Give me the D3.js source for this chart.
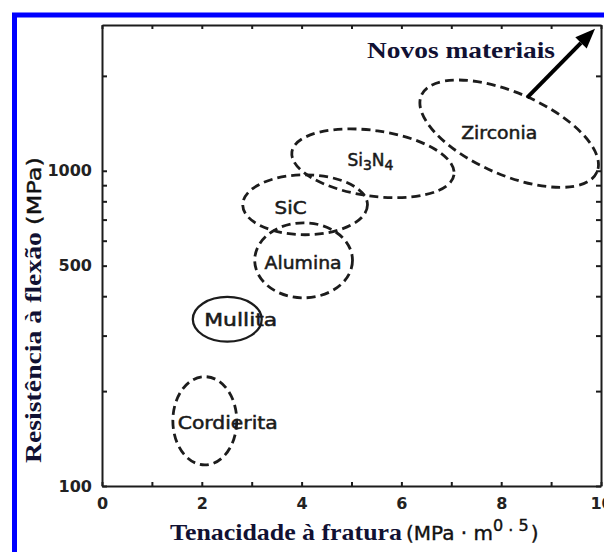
<!DOCTYPE html>
<html>
<head>
<meta charset="utf-8">
<script src="https://cdn.jsdelivr.net/npm/d3@7"></script>
<style>
  html, body { margin: 0; padding: 0; background: #fff; }
  svg { display: block; }
</style>
</head>
<body>
<svg id="chart" width="604" height="552"></svg>
<script>
// ---------------- data ----------------
const xTickValues = [0, 1, 2, 3, 4, 5, 6, 7, 8, 9, 10];
const xTickLabels = [0, 2, 4, 6, 8, 10];
const yTickValues = [100, 200, 300, 400, 500, 600, 700, 800, 900, 1000, 2000];
const yTickLabels = [100, 500, 1000];
const xDomain = [0, 10];
const yDomain = [100, 2900];

const materials = ["Cordierita", "Mullita", "Alumina", "SiC", "Si3N4", "Zirconia"];
const toughnessCenter = [2.06, 2.51, 4.04, 4.07, 5.43, 8.16];      // MPa·m^0.5
const strengthCenter = [161, 338, 520, 780, 1056, 1311];           // MPa
const toughnessHalfRange = [0.64, 0.69, 0.98, 1.25, 1.64, 1.92];   // semi-axis (toughness units)
const strengthHalfDecades = [0.14, 0.071, 0.119, 0.095, 0.104, 0.13]; // semi-axis (log10 decades)
const tiltDegrees = [0, 0, 0, 0, 8, 23.6];
const solidOutline = [false, true, false, false, false, false];
const labelToughness = [2.52, 2.78, 4.03, 3.78, 5.38, 7.96];
const labelStrength = [158.5, 336.5, 510, 763, 1084, 1320];

const arrowFrom = { toughness: 8.52, strength: 1705 };
const arrowTo = { toughness: 9.88, strength: 2824 };

// ---------------- layout ----------------
const svg = d3.select("#chart");
const plot = { left: 102, right: 601, top: 25, bottom: 486 };
const x = d3.scaleLinear().domain(xDomain).range([plot.left, plot.right]);
const y = d3.scaleLog().domain(yDomain).range([plot.bottom, plot.top]);

// blue outer frame
svg.append("rect")
  .attr("x", 14.5).attr("y", 15).attr("width", 700).attr("height", 700)
  .attr("fill", "none").attr("stroke", "#0000ff").attr("stroke-width", 5);

const ink = "#1c1c1c";
const tickFont = "'DejaVu Sans', sans-serif";

function styleAxis(g) {
  g.select(".domain").attr("stroke", ink).attr("stroke-width", 2);
  g.selectAll(".tick line").attr("stroke", ink).attr("stroke-width", 2);
  g.selectAll(".tick text")
    .attr("fill", "#222")
    .style("font-family", tickFont)
    .style("font-weight", "bold")
    .style("font-size", "16px");
}

// bottom axis
svg.append("g")
  .attr("transform", `translate(0,${plot.bottom})`)
  .call(d3.axisBottom(x).tickValues(xTickValues)
    .tickFormat(d => xTickLabels.includes(d) ? d : "")
    .tickSizeInner(-4).tickSizeOuter(0).tickPadding(12))
  .call(styleAxis);

// top axis
svg.append("g")
  .attr("transform", `translate(0,${plot.top})`)
  .call(d3.axisTop(x).tickValues(xTickValues).tickFormat("")
    .tickSizeInner(-4).tickSizeOuter(0))
  .call(styleAxis);

// left axis
svg.append("g")
  .attr("transform", `translate(${plot.left},0)`)
  .call(d3.axisLeft(y).tickValues(yTickValues)
    .tickFormat(d => yTickLabels.includes(d) ? d : "")
    .tickSizeInner(-5).tickSizeOuter(0).tickPadding(10))
  .call(styleAxis);

// right axis
svg.append("g")
  .attr("transform", `translate(${plot.right},0)`)
  .call(d3.axisRight(y).tickValues(yTickValues).tickFormat("")
    .tickSizeInner(-5).tickSizeOuter(0))
  .call(styleAxis);

// ---------------- ellipses ----------------
const regions = svg.append("g");
materials.forEach((m, i) => {
  const cx = x(toughnessCenter[i]);
  const cy = y(strengthCenter[i]);
  const rx = x(toughnessCenter[i] + toughnessHalfRange[i]) - x(toughnessCenter[i]);
  const ry = y(strengthCenter[i]) - y(strengthCenter[i] * Math.pow(10, strengthHalfDecades[i]));
  regions.append("ellipse")
    .attr("cx", cx).attr("cy", cy).attr("rx", rx).attr("ry", ry)
    .attr("transform", `rotate(${tiltDegrees[i]},${cx},${cy})`)
    .attr("fill", "none")
    .attr("stroke", ink)
    .attr("stroke-width", solidOutline[i] ? 2.3 : 2.8)
    .attr("stroke-dasharray", solidOutline[i] ? null : "9,5");
});

// labels
const labelWidths = { "Cordierita": 100, "Mullita": 73, "Alumina": 77, "SiC": 32, "Zirconia": 76 };
materials.forEach((m, i) => {
  const t = svg.append("text")
    .attr("x", x(labelToughness[i]))
    .attr("y", y(labelStrength[i]) + 6)
    .attr("text-anchor", "middle")
    .attr("fill", "#1a1a1a")
    .attr("stroke", "#1a1a1a").attr("stroke-width", 0.5)
    .style("font-family", tickFont)
    .style("font-size", "17px");
  if (m === "Si3N4") {
    t.append("tspan").text("Si");
    t.append("tspan").text("3").attr("dy", 4).style("font-size", "14px");
    t.append("tspan").text("N").attr("dy", -4);
    t.append("tspan").text("4").attr("dy", 4).style("font-size", "14px");
  } else {
    t.text(m)
      .attr("textLength", labelWidths[m])
      .attr("lengthAdjust", "spacingAndGlyphs");
  }
});

// arrow "Novos materiais"
const ax1 = x(arrowFrom.toughness), ay1 = y(arrowFrom.strength);
const ax2 = x(arrowTo.toughness), ay2 = y(arrowTo.strength);
const ang = Math.atan2(ay2 - ay1, ax2 - ax1);
const headLen = 20, headHalf = 8;
const bx = ax2 - headLen * Math.cos(ang), by = ay2 - headLen * Math.sin(ang);
svg.append("line")
  .attr("x1", ax1).attr("y1", ay1).attr("x2", bx).attr("y2", by)
  .attr("stroke", "#000").attr("stroke-width", 4);
svg.append("polygon")
  .attr("points", [
    [ax2, ay2],
    [bx + headHalf * Math.sin(ang), by - headHalf * Math.cos(ang)],
    [bx - headHalf * Math.sin(ang), by + headHalf * Math.cos(ang)]
  ].map(p => p.join(",")).join(" "))
  .attr("fill", "#000");

const titleInk = "#111133";
const serif = "'Liberation Serif', 'Times New Roman', serif";

svg.append("text")
  .attr("x", 367).attr("y", 58)
  .attr("fill", titleInk)
  .style("font-family", serif).style("font-weight", "bold").style("font-size", "24px")
  .attr("textLength", 188).attr("lengthAdjust", "spacingAndGlyphs")
  .text("Novos materiais");

// x axis title
svg.append("text")
  .attr("x", 170).attr("y", 540)
  .attr("fill", titleInk)
  .style("font-family", serif).style("font-weight", "bold").style("font-size", "24px")
  .attr("textLength", 232).attr("lengthAdjust", "spacingAndGlyphs")
  .text("Tenacidade à fratura");
const xt = svg.append("text")
  .attr("x", 406).attr("y", 540)
  .attr("fill", "#111").attr("stroke", "#111").attr("stroke-width", 0.4)
  .style("font-family", tickFont).style("font-size", "20px");
xt.append("tspan").text("(MPa · m");
xt.append("tspan").text("0 . 5").attr("dy", -9).style("font-size", "16px");
xt.append("tspan").text(")").attr("dy", 9).attr("dx", 2);

// y axis title
svg.append("text")
  .attr("transform", "translate(41,463) rotate(-90)")
  .attr("fill", titleInk)
  .style("font-family", serif).style("font-weight", "bold").style("font-size", "24px")
  .attr("textLength", 231).attr("lengthAdjust", "spacingAndGlyphs")
  .text("Resistência à flexão");
svg.append("text")
  .attr("transform", "translate(41,225) rotate(-90)")
  .attr("fill", "#111").attr("stroke", "#111").attr("stroke-width", 0.4)
  .style("font-family", tickFont).style("font-size", "20px")
  .attr("textLength", 68).attr("lengthAdjust", "spacingAndGlyphs")
  .text("(MPa)");
</script>
</body>
</html>
